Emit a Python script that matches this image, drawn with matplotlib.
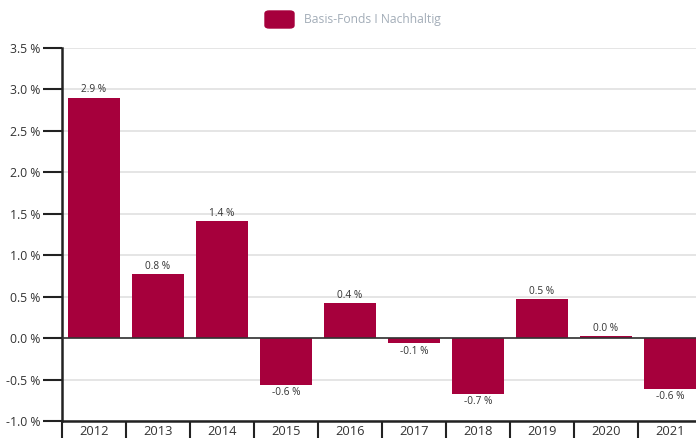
import matplotlib.pyplot as plt
import numpy as np
from matplotlib.patches import FancyBboxPatch

years = ['2012', '2013', '2014', '2015', '2016', '2017', '2018', '2019', '2020', '2021']
returns = [2.9, 0.77, 1.41, -0.56, 0.42, -0.06, -0.67, 0.47, 0.02, -0.61]
labels = ['2.9 %', '0.8 %', '1.4 %', '-0.6 %', '0.4 %', '-0.1 %', '-0.7 %', '0.5 %', '0.0 %', '-0.6 %']
series_name = 'Basis-Fonds I Nachhaltig'
yticks = np.arange(-1.0, 3.51, 0.5)

bar_color = '#a6003c'
text_color = '#333333'

plt.rcParams['font.family'] = ['Open Sans', 'DejaVu Sans']

fig = plt.figure(figsize=(6.96, 4.38), dpi=100)
W, H = 696, 438
ax = fig.add_axes([62 / W, (H - 421) / H, 640 / W, (421 - 48) / H])

X = np.arange(len(years))
ax.bar(X, returns, width=0.8, color=bar_color, zorder=3)

for x, v, lab in zip(X, returns, labels):
    if v >= 0:
        ax.text(x, v + 0.03, lab, ha='center', va='bottom', fontsize=7.3, color=text_color, zorder=4)
    else:
        ax.text(x, v - 0.03, lab, ha='center', va='top', fontsize=7.3, color=text_color, zorder=4)

ax.set_xlim(-0.5, len(years) - 0.5)
ax.set_ylim(-1.0, 3.5)
ax.set_yticks(yticks)
ax.set_yticklabels(['%.1f %%' % t for t in yticks], fontsize=8.8, color=text_color)
ax.yaxis.grid(True, color='#e0e0e0', linewidth=1.2, zorder=0)
ax.axhline(0, color='#333333', linewidth=1.2, zorder=4)

# category cells below the axis
ax.set_xticks(X)
ax.set_xticklabels(years, fontsize=9.3, color=text_color)
ax.set_xticks(np.arange(-0.5, len(years), 1.0), minor=True)
ax.tick_params(axis='x', which='major', length=0, pad=3)
ax.tick_params(axis='x', which='minor', length=20, width=1.5, color='#222222', direction='out')
ax.tick_params(axis='y', length=13.5, width=1.5, color='#222222', pad=2)

for s in ['top', 'right']:
    ax.spines[s].set_visible(False)
for s in ['left', 'bottom']:
    ax.spines[s].set_linewidth(1.8)
    ax.spines[s].set_color('#222222')

# legend
fig.patches.append(FancyBboxPatch((265 / W, (H - 28) / H), 29 / W, 17 / H,
                                  boxstyle='round,pad=0,rounding_size=0.006',
                                  transform=fig.transFigure, color=bar_color))
fig.text(304 / W, (H - 19) / H, series_name, fontsize=8.7, color='#a3adb8', va='center', ha='left')

fig.savefig('out.png', dpi=100)
